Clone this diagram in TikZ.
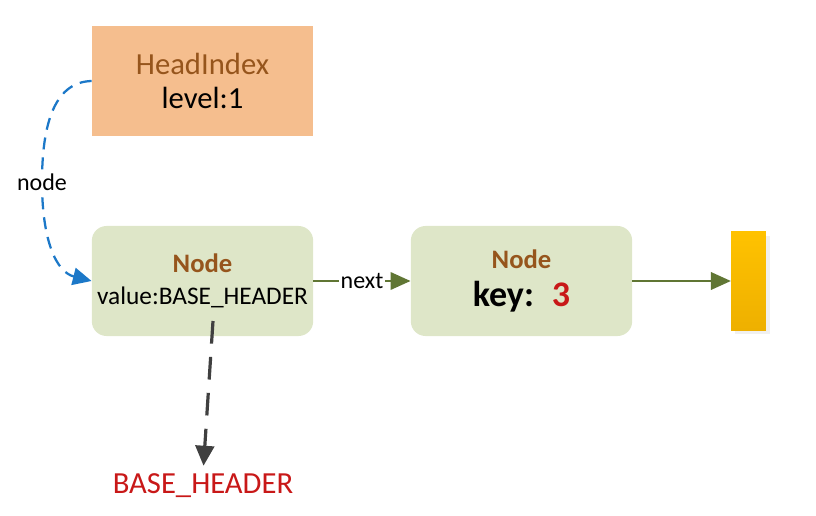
\documentclass[tikz,border=0pt]{standalone}
\usepackage{fontspec}
\setmainfont{Carlito}
\usetikzlibrary{arrows.meta,shadows}

\definecolor{headorange}{RGB}{245,190,142}
\definecolor{nodegreen}{RGB}{222,230,200}
\definecolor{titlebrown}{RGB}{150,85,28}
\definecolor{linkolive}{RGB}{96,118,52}
\definecolor{refblue}{RGB}{28,120,200}
\definecolor{valred}{RGB}{200,24,24}
\definecolor{arrowgray}{RGB}{64,64,64}
\definecolor{nilyellow}{RGB}{255,194,0}
\definecolor{nildark}{RGB}{238,176,0}

\begin{document}
\begin{tikzpicture}[x=0.75pt,y=-0.75pt,
    every node/.style={inner sep=0pt,align=center},
    headbox/.style={fill=headorange,minimum width=166pt,minimum height=82.5pt},
    listbox/.style={fill=nodegreen,rounded corners=11pt,minimum width=166pt,minimum height=82.5pt},
    link/.style={draw=linkolive,line width=1.9pt,-{Triangle[length=15pt,width=13pt]}},
    tag/.style={fill=white,text=black,inner sep=1pt,font=\fontsize{18}{20}\selectfont}]

  \useasboundingbox (0,0) rectangle (816,516);

  % Index and list nodes
  \node[headbox,font=\fontsize{23}{25.5}\selectfont] (head) at (202.5,81)
    {\textcolor{titlebrown}{HeadIndex}\\level:1};
  \node[listbox,font=\fontsize{19}{24}\selectfont] (n1) at (202.5,281)
    {\textcolor{titlebrown}{\fontsize{20}{24}\selectfont\bfseries Node}\\value:BASE\_HEADER};
  \node[listbox,font=\fontsize{27}{29}\selectfont\bfseries] (n2) at (521.5,281)
    {\textcolor{titlebrown}{\fontsize{20}{24}\selectfont Node}\\key:\hspace{0.5em}\textcolor{valred}{3}};
  \node[top color=nilyellow,bottom color=nildark,minimum width=26pt,minimum height=73.5pt,
    drop shadow={opacity=0.12,shadow xshift=3pt,shadow yshift=-3pt}] (nil) at (748.5,281) {};

  % Value of the head node
  \coordinate (valtail) at (213,321);
  \node[font=\fontsize{23}{25}\selectfont,text=valred] (base) at (203,486) {BASE\_HEADER};

  % Links
  \draw[link] (n1.east) -- node[tag] (nexttag) {next} (n2.west);
  \draw[link] (n2.east) -- (nil.west);
  \draw[refblue,line width=1.7pt,dash pattern=on 9pt off 6pt,-{Triangle[length=14pt,width=13pt]}]
    (head.west) .. controls (52,82) and (42,130) .. (42,182) node[tag] (nodetag) {node}
    .. controls (42,240) and (56,272) .. (n1.west);
  \draw[arrowgray,line width=2.4pt,dash pattern=on 17pt off 10pt,shorten >=6pt,
    -{Triangle[length=15pt,width=14pt]}] (valtail) -- (base.north);

\end{tikzpicture}
\end{document}
